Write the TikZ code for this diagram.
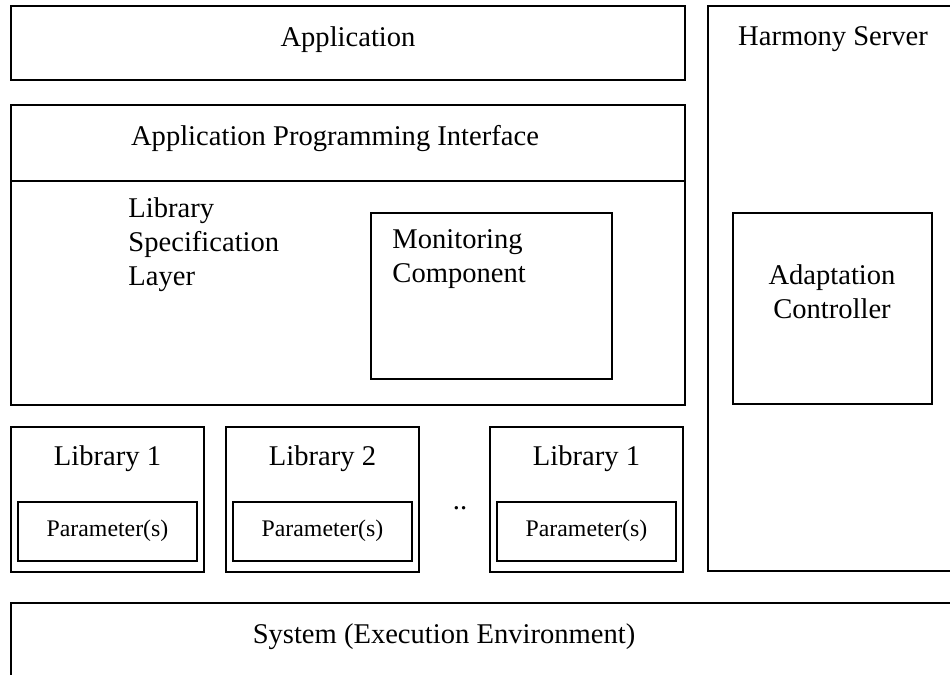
\documentclass[tikz,border=0pt]{standalone}
\usepackage{fontspec}
\setmainfont{Liberation Serif}
\usetikzlibrary{positioning}

\begin{document}
\begin{tikzpicture}[x = 0.42pt, y = -0.42pt,
			box/.style = {draw, line width=0.8pt},
			txt/.style = {inner sep=0, font=\fontsize{12}{14.3}\selectfont},
			ptxt/.style = {inner sep=0, font=\fontsize{10}{12}\selectfont}]
			\useasboundingbox (0,0) rectangle (950,675);
			\clip (0,0) rectangle (950,675);
			
			\draw[box] (11,6) rectangle (685,80)
			(11,105) rectangle (685,405)
			(11,181) -- (685,181)
			(371,213) rectangle (612,379)
			%
			(708,6) rectangle (970,571)
			(733,213) rectangle (932,404)
			%
			(11,603) rectangle (970,700);
			
			\node[txt, anchor=base] (app) at (348,47) {Application};
			\node[txt, anchor=base] (api) at (335,145) {Application Programming Interface};
			\node[txt, anchor=north west, align=left] (lsl) at (128,197) {Library\\Specification\\Layer};
			\node[txt, anchor=north west, align=left] (mon) at (392,229) {Monitoring\\Component};
			\node[txt, anchor=base] (srv) at (833,45) {Harmony Server};
			\node[txt, anchor=north, align=center] (ctl) at (832,264) {Adaptation\\Controller};
			\node[txt, anchor=base] (sys) at (444,643) {System (Execution Environment)};
			
			% libraries
			\foreach \x/\n/\t in {11/libA/Library 1, 226/libB/Library 2, 490/libC/Library 1}
			{
				\draw[box] (\x,427) rectangle ++(193,145)
				(\x+7,502) rectangle ++(179,59);
				\node[txt, anchor=base] (\n) at (\x+96.5,465) {\t};
				\node[ptxt, anchor=base] (\n-par) at (\x+96.5,536) {Parameter(s)};
			}
			\node[txt, anchor=base] (dots) at (460,509) {..};
		\end{tikzpicture}
\end{document}
